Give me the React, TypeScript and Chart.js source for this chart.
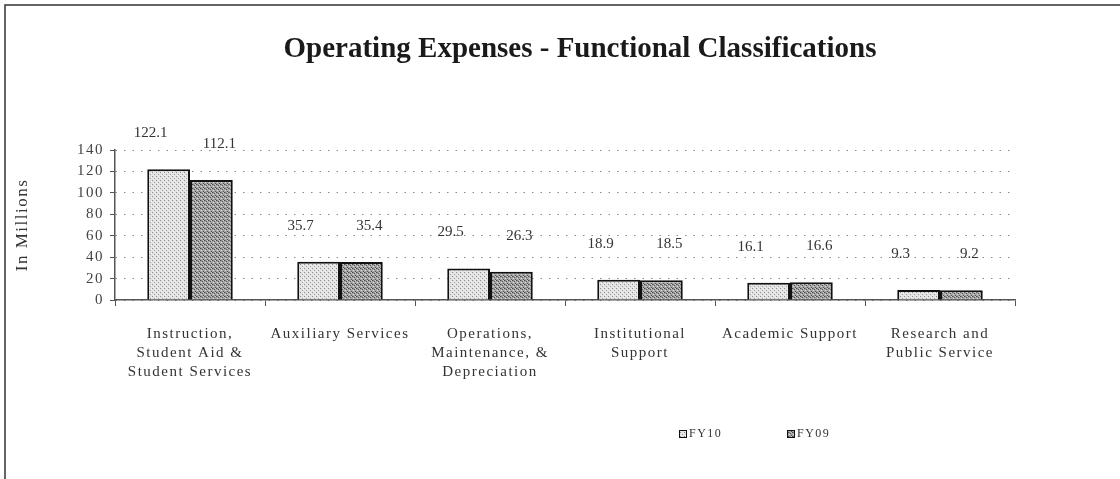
import React, { useEffect, useRef } from "react";
import { Chart, registerables } from "chart.js";

Chart.register(...registerables);

const categories: string[][] = [
  ["Instruction,", "Student Aid &", "Student Services"],
  ["Auxiliary Services"],
  ["Operations,", "Maintenance, &", "Depreciation"],
  ["Institutional", "Support"],
  ["Academic Support"],
  ["Research and", "Public Service"],
];
const seriesNames = ["FY10", "FY09"];
const fy10 = [122.1, 35.7, 29.5, 18.9, 16.1, 9.3];
const fy09 = [112.1, 35.4, 26.3, 18.5, 16.6, 9.2];
const yTicks = [0, 20, 40, 60, 80, 100, 120, 140];
const chartTitle = "Operating Expenses - Functional Classifications";
const yAxisTitle = "In Millions";

const SERIF = '"Liberation Serif", "Times New Roman", serif';
const W = 1120;
const H = 479;

function makePattern(
  ctx: CanvasRenderingContext2D,
  base: string,
  dots: [number, number, string][],
  size: number
) {
  const c = document.createElement("canvas");
  c.width = size;
  c.height = size;
  const g = c.getContext("2d")!;
  g.fillStyle = base;
  g.fillRect(0, 0, size, size);
  for (const [x, y, col] of dots) {
    g.fillStyle = col;
    g.fillRect(x, y, 1, 1);
  }
  return ctx.createPattern(c, "repeat") || base;
}

export default function App() {
  const ref = useRef<HTMLCanvasElement | null>(null);

  useEffect(() => {
    const canvas = ref.current;
    if (!canvas) return;
    const ctx = canvas.getContext("2d")!;

    const lightPat = makePattern(
      ctx,
      "#e2e2e2",
      [
        [0, 0, "#8c8c8c"],
        [2, 2, "#a0a0a0"],
        [3, 1, "#f4f4f4"],
        [1, 3, "#f4f4f4"],
      ],
      4
    );
    const darkPat = makePattern(
      ctx,
      "#a6a6a6",
      [
        [0, 0, "#4a4a4a"],
        [2, 1, "#5a5a5a"],
        [1, 2, "#d8d8d8"],
        [3, 3, "#505050"],
        [3, 0, "#cfcfcf"],
        [1, 0, "#7a7a7a"],
      ],
      4
    );
    const fills = [lightPat, darkPat];

    const spacing = {
      id: "spacing",
      beforeUpdate(chart: any) {
        (chart.ctx as any).letterSpacing = "1.5px";
      },
      beforeDraw(chart: any) {
        (chart.ctx as any).letterSpacing = "1.5px";
      },
    };

    const valueLabels = {
      id: "valueLabels",
      afterDatasetsDraw(chart: any) {
        const c = chart.ctx;
        c.save();
        c.letterSpacing = "0px";
        c.font = `15px ${SERIF}`;
        c.fillStyle = "#333";
        c.textAlign = "center";
        c.textBaseline = "middle";
        chart.data.datasets.forEach((ds: any, i: number) => {
          const meta = chart.getDatasetMeta(i);
          meta.data.forEach((el: any, j: number) => {
            const v = ds.data[j] as number;
            c.fillText(v.toFixed(1), el.x + (i === 0 ? -18 : 8), el.y - 36);
          });
        });
        c.restore();
      },
    };

    const decorations = {
      id: "decorations",
      afterDraw(chart: any) {
        const c = chart.ctx;
        c.save();
        // frame (top and left edges)
        c.strokeStyle = "#333";
        c.lineWidth = 1.5;
        c.beginPath();
        c.moveTo(5, H);
        c.lineTo(5, 5);
        c.lineTo(W, 5);
        c.stroke();
        // title
        c.letterSpacing = "0px";
        c.font = `bold 29px ${SERIF}`;
        c.fillStyle = "#1a1a1a";
        c.textAlign = "center";
        c.textBaseline = "middle";
        c.fillText(chartTitle, 580, 50);
        // legend
        c.letterSpacing = "1.5px";
        c.font = `12px ${SERIF}`;
        c.textAlign = "left";
        const lx = [679, 787];
        const ly = 434;
        seriesNames.forEach((name, i) => {
          c.fillStyle = fills[i];
          c.fillRect(lx[i], ly - 4, 8, 8);
          c.strokeStyle = "#111";
          c.lineWidth = 1;
          c.strokeRect(lx[i] + 0.5, ly - 3.5, 7, 7);
          c.fillStyle = "#333";
          c.fillText(name, lx[i] + 10, ly);
        });
        c.restore();
      },
    };

    const chart = new Chart(canvas, {
      type: "bar",
      data: {
        labels: categories,
        datasets: [
          {
            label: seriesNames[0],
            data: fy10,
            backgroundColor: lightPat as any,
            borderColor: "#111",
            borderWidth: 2,
            categoryPercentage: 0.57,
            barPercentage: 1.0,
          },
          {
            label: seriesNames[1],
            data: fy09,
            backgroundColor: darkPat as any,
            borderColor: "#111",
            borderWidth: 2,
            categoryPercentage: 0.57,
            barPercentage: 1.0,
          },
        ],
      },
      options: {
        responsive: false,
        animation: false,
        layout: { padding: { top: 150, right: 105, bottom: 0, left: 0 } },
        plugins: {
          legend: { display: false },
          title: { display: false },
          tooltip: { enabled: false },
        },
        scales: {
          x: {
            offset: true,
            grid: {
              offset: true,
              drawOnChartArea: false,
              drawTicks: true,
              tickLength: 6,
              tickColor: "#555",
              tickWidth: 1,
            },
            border: { color: "#555", width: 1.5 },
            ticks: {
              color: "#333",
              font: { family: SERIF, size: 15, lineHeight: 1.25 },
              padding: 19,
              maxRotation: 0,
              autoSkip: false,
            },
            afterFit: (s: any) => {
              s.height = 179;
            },
          },
          y: {
            min: 0,
            max: 140,
            afterBuildTicks: (s: any) => {
              s.ticks = yTicks.map((v) => ({ value: v }));
            },
            grid: {
              color: "#8a8a8a",
              lineWidth: 1,
              drawTicks: true,
              tickLength: 5,
              tickColor: "#555",
              tickBorderDash: [],
            } as any,
            border: { color: "#555", width: 1.5, dash: [1.5, 7] },
            ticks: {
              color: "#444",
              font: { family: SERIF, size: 15 },
              padding: 6,
              autoSkip: false,
            },
            title: {
              display: true,
              text: yAxisTitle,
              color: "#333",
              font: { family: SERIF, size: 17 },
              padding: { top: 12, bottom: 0 },
            },
            afterFit: (s: any) => {
              s.width = 115;
            },
          },
        },
      },
      plugins: [spacing, valueLabels, decorations],
    });

    return () => chart.destroy();
  }, []);

  return (
    <div
      style={{
        position: "absolute",
        left: 0,
        top: 0,
        width: W,
        height: H,
        background: "#fff",
        overflow: "hidden",
      }}
    >
      <canvas ref={ref} width={W} height={H} style={{ display: "block" }} />
    </div>
  );
}
